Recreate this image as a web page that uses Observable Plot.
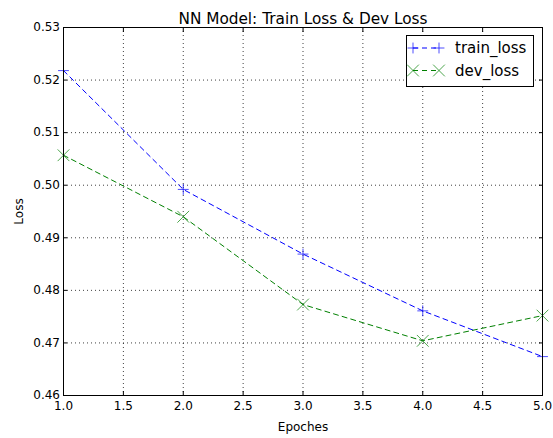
<!DOCTYPE html>
<html>
<head>
<meta charset="utf-8">
<script src="https://cdn.jsdelivr.net/npm/d3@7"></script>
<script src="https://cdn.jsdelivr.net/npm/@observablehq/plot@0.6"></script>
<style>
  html, body { margin: 0; padding: 0; background: #fff; }
</style>
</head>
<body>
<div id="chart"></div>
<script>
const epochs = [1, 2, 3, 4, 5];
const trainLoss = [0.5218, 0.4992, 0.4869, 0.4761, 0.4674];
const devLoss = [0.5057, 0.4940, 0.4773, 0.4704, 0.4752];
const xTicks = [1.0, 1.5, 2.0, 2.5, 3.0, 3.5, 4.0, 4.5, 5.0];
const yTicks = [0.46, 0.47, 0.48, 0.49, 0.50, 0.51, 0.52, 0.53];
const seriesNames = ["train_loss", "dev_loss"];
const seriesColors = ["#0000ff", "#008000"];
const seriesSymbols = ["plus", "times"];
const seriesR = [3.6, 5.4];
const titleText = "NN Model: Train Loss & Dev Loss";
const xLabel = "Epoches";
const yLabel = "Loss";

const trainRows = epochs.map((e, i) => ({epoch: e, loss: trainLoss[i]}));
const devRows = epochs.map((e, i) => ({epoch: e, loss: devLoss[i]}));
const seriesRows = [trainRows, devRows];

const font = "DejaVu Sans, sans-serif";

const marks = [
  Plot.gridX(xTicks, {stroke: "#000", strokeOpacity: 0.75, strokeDasharray: "1,3"}),
  Plot.gridY(yTicks, {stroke: "#000", strokeOpacity: 0.75, strokeDasharray: "1,3"})
];
seriesRows.forEach((rows, i) => {
  marks.push(Plot.line(rows, {x: "epoch", y: "loss", stroke: seriesColors[i], strokeWidth: 1, strokeDasharray: "5,4"}));
  marks.push(Plot.dot(rows, {x: "epoch", y: "loss", symbol: seriesSymbols[i], r: seriesR[i], stroke: seriesColors[i], strokeWidth: 0.7, fill: "none"}));
});
marks.push(
  Plot.axisX(xTicks, {anchor: "bottom", tickSize: -4, tickPadding: 10, tickFormat: d3.format(".1f"), fontSize: 12,
    label: xLabel, labelAnchor: "center", labelOffset: 35, labelArrow: "none", fill: "#000", stroke: "#000"}),
  Plot.axisX(xTicks, {anchor: "top", tickSize: -4, tickFormat: () => "", label: null, stroke: "#000"}),
  Plot.axisY(yTicks, {anchor: "left", tickSize: -4, tickPadding: 7.5, tickFormat: d3.format(".2f"), fontSize: 12,
    label: yLabel, labelAnchor: "center", labelOffset: 49, labelArrow: "none", fill: "#000", stroke: "#000"}),
  Plot.axisY(yTicks, {anchor: "right", tickSize: -4, tickFormat: () => "", label: null, stroke: "#000"}),
  Plot.frame({stroke: "#000", strokeWidth: 1}),
  Plot.text([titleText], {frameAnchor: "top", dy: -4, lineAnchor: "bottom", fontSize: 15.3, fill: "#000"})
);

const chart = Plot.plot({
  width: 553,
  height: 438,
  marginLeft: 63,
  marginRight: 11,
  marginTop: 27,
  marginBottom: 43,
  style: {fontFamily: font, fontSize: "12px", color: "#000", background: "#fff"},
  x: {domain: [1, 5]},
  y: {domain: [0.46, 0.53]},
  marks
});

// Legend
const svg = d3.select(chart);
const lg = svg.append("g").attr("class", "legend");
lg.append("rect")
  .attr("x", 406.5).attr("y", 35.5).attr("width", 127).attr("height", 51)
  .attr("fill", "#fff").attr("stroke", "#000").attr("stroke-width", 1);
const symbolMap = {plus: d3.symbolPlus, times: d3.symbolTimes};
seriesNames.forEach((name, i) => {
  const y = 48 + i * 22.5;
  lg.append("line")
    .attr("x1", 413).attr("x2", 439).attr("y1", y).attr("y2", y)
    .attr("stroke", seriesColors[i]).attr("stroke-dasharray", "5,4").attr("stroke-width", 1);
  const sym = d3.symbol(symbolMap[seriesSymbols[i]], seriesR[i] * seriesR[i] * Math.PI);
  [413, 439].forEach(x => {
    lg.append("path").attr("d", sym()).attr("transform", `translate(${x},${y})`)
      .attr("fill", "none").attr("stroke", seriesColors[i]).attr("stroke-width", 0.7);
  });
  lg.append("text")
    .attr("x", 455).attr("y", y).attr("dy", "0.35em")
    .attr("text-anchor", "start")
    .attr("font-family", font).attr("font-size", 15).attr("fill", "#000")
    .text(name);
});

document.getElementById("chart").appendChild(chart);
</script>
</body>
</html>
